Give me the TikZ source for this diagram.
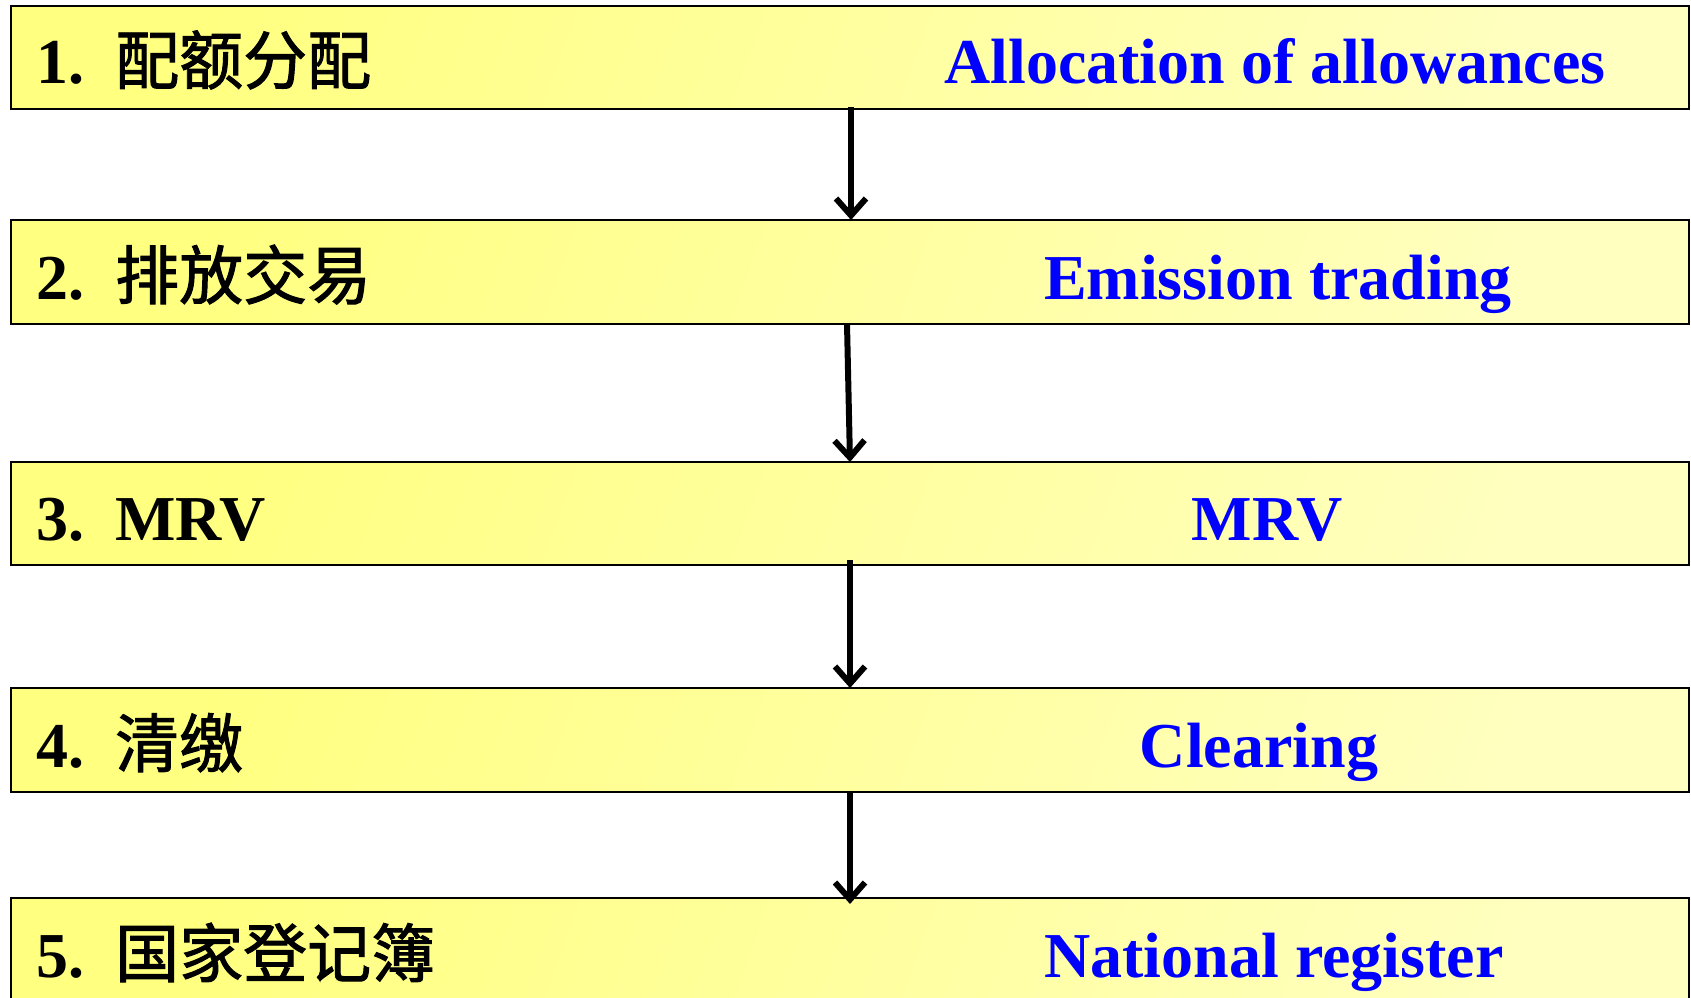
\documentclass[tikz,border=0pt]{standalone}
\usepackage{fontspec}
\setmainfont{Liberation Serif}
\newfontfamily\cjk[FakeBold=1.5]{Noto Sans CJK SC}
\usetikzlibrary{arrows.meta}
\definecolor{stepblue}{RGB}{0,0,255}
\tikzset{
  stagebox/.style={draw=black, line width=2.4pt, left color=yellow!50!white, right color=yellow!25!white, shading angle=70},
  numtext/.style={anchor=base west, inner sep=0pt, font=\fontsize{64}{70}\selectfont\bfseries},
  cntext/.style={anchor=base west, inner sep=0pt, font=\fontsize{64}{70}\selectfont\cjk},
  entext/.style={anchor=base, inner sep=0pt, text=stepblue, font=\fontsize{64}{70}\selectfont\bfseries},
  flowarrow/.style={draw=black, line width=6pt, -{Straight Barb[length=17pt,width=30pt,line width=6pt]}}
}
\begin{document}
\begin{tikzpicture}[x=1pt,y=-1pt]
\useasboundingbox (0,0) rectangle (1691,998);
\clip (0,0) rectangle (1691,998);
\fill[white] (0,0) rectangle (1691,998);
% boxes
\path[stagebox] (11,6) rectangle (1689,109);
\path[stagebox] (11,220) rectangle (1689,324);
\path[stagebox] (11,462) rectangle (1689,565);
\path[stagebox] (11,688) rectangle (1689,792);
\path[stagebox] (11,898) rectangle (1689,1020);
\coordinate (b1s) at (851,107);
\coordinate (b2n) at (851,220);
\coordinate (b2s) at (847,324);
\coordinate (b3n) at (850,462);
\coordinate (b3s) at (850,560);
\coordinate (b4n) at (850,688);
\coordinate (b4s) at (850,792);
\coordinate (b5n) at (850,904);
% texts
\node[numtext] (n1) at (36,84) {1.};
\node[cntext] (c1) at (115,84) {配额分配};
\node[entext] (e1) at (1275,84) {Allocation of allowances};
\node[numtext] (n2) at (36,299) {2.};
\node[cntext] (c2) at (115,299) {排放交易};
\node[entext] (e2) at (1278,299) {Emission trading};
\node[numtext] (n3) at (36,540) {3.};
\node[numtext] (c3) at (115,540) {MRV};
\node[entext] (e3) at (1267,540) {MRV};
\node[numtext] (n4) at (36,767) {4.};
\node[cntext] (c4) at (115,767) {清缴};
\node[entext] (e4) at (1259,767) {Clearing};
\node[numtext] (n5) at (36,977) {5.};
\node[cntext] (c5) at (115,977) {国家登记簿};
\node[entext] (e5) at (1274,977) {National register};
% arrows
\draw[flowarrow] (b1s) -- (b2n);
\draw[flowarrow] (b2s) -- (b3n);
\draw[flowarrow] (b3s) -- (b4n);
\draw[flowarrow] (b4s) -- (b5n);
\end{tikzpicture}
\end{document}
